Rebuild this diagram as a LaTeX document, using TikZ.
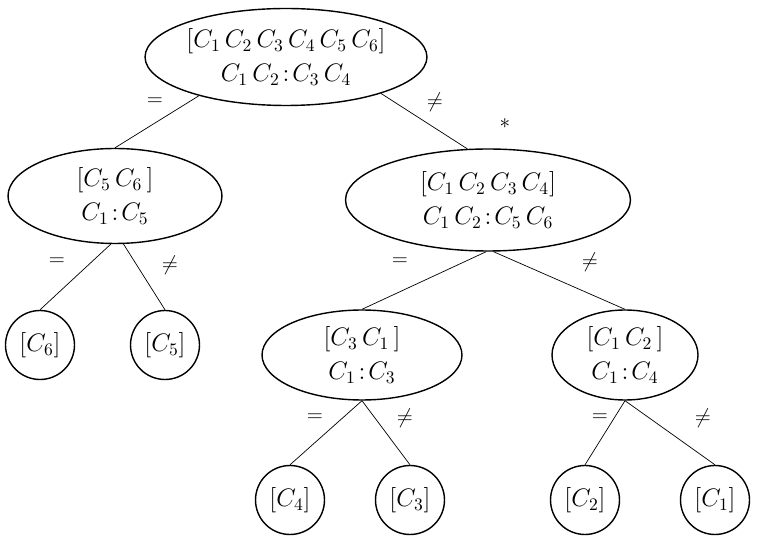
\documentclass[tikz,border=0pt]{standalone}
\usepackage{fontspec}
\setmainfont{Liberation Serif}
\usetikzlibrary{shapes.geometric}
\tikzset{
  test/.style={ellipse,draw,thick,inner sep=0pt,align=center,font=\Large},
  leaf/.style={circle,draw,thick,minimum size=1.38cm,inner sep=0pt,font=\Large},
  lab/.style={font=\large},
}
\begin{document}
\begin{tikzpicture}[x=0.02cm,y=-0.02cm]
\useasboundingbox (0,0) rectangle (760,543);

\node [test,minimum width=5.64cm,minimum height=1.94cm] (root) at (286,57) {$[C_1\,C_2\,C_3\,C_4\,C_5\,C_6]$\\[1pt]$C_1\,C_2\!:\!C_3\,C_4$};
\node [test,minimum width=4.28cm,minimum height=1.9cm] (l) at (115,196) {$[C_5\,C_6\,]$\\[1pt]$C_1\!:\!C_5$};
\node [test,minimum width=5.7cm,minimum height=2.04cm] (r) at (488,200) {$[C_1\,C_2\,C_3\,C_4]$\\[1pt]$C_1\,C_2\!:\!C_5\,C_6$};
\node [test,minimum width=4cm,minimum height=1.8cm] (rl) at (362,355) {$[C_3\,C_1\,]$\\[1pt]$C_1\!:\!C_3$};
\node [test,minimum width=2.92cm,minimum height=1.8cm] (rr) at (625,355) {$[C_1\,C_2\,]$\\[1pt]$C_1\!:\!C_4$};

\node [leaf] (c6) at (40,345) {$[C_6]$};
\node [leaf] (c5) at (165,345) {$[C_5]$};
\node [leaf] (c4) at (290,500) {$[C_4]$};
\node [leaf] (c3) at (410,500) {$[C_3]$};
\node [leaf] (c2) at (585,500) {$[C_2]$};
\node [leaf] (c1) at (715,500) {$[C_1]$};

\draw (root.204) -- (l.north);
\draw (root.339) -- (r.112);
\draw (l.265) -- (c6.north);
\draw (l.280) -- (c5.north);
\draw (r.268) -- (rl.north);
\draw (r.276) -- (rr.north);
\draw (rl.south) -- (c4.north);
\draw (rl.south) -- (c3.north);
\draw (rr.south) -- (c2.north);
\draw (rr.south) -- (c1.north);

% edge labels
\node [lab] (e1) at (155,102) {$=$};
\node [lab] (n1) at (435,102) {$\neq$};
\node [lab] (st) at (505,124) {$*$};
\node [lab] (e2) at (57,262) {$=$};
\node [lab] (n2) at (170,265) {$\neq$};
\node [lab] (e3) at (400,262) {$=$};
\node [lab] (n3) at (590,262) {$\neq$};
\node [lab] (e4) at (315,418) {$=$};
\node [lab] (n4) at (405,418) {$\neq$};
\node [lab] (e5) at (600,418) {$=$};
\node [lab] (n5) at (703,418) {$\neq$};
\end{tikzpicture}
\end{document}
